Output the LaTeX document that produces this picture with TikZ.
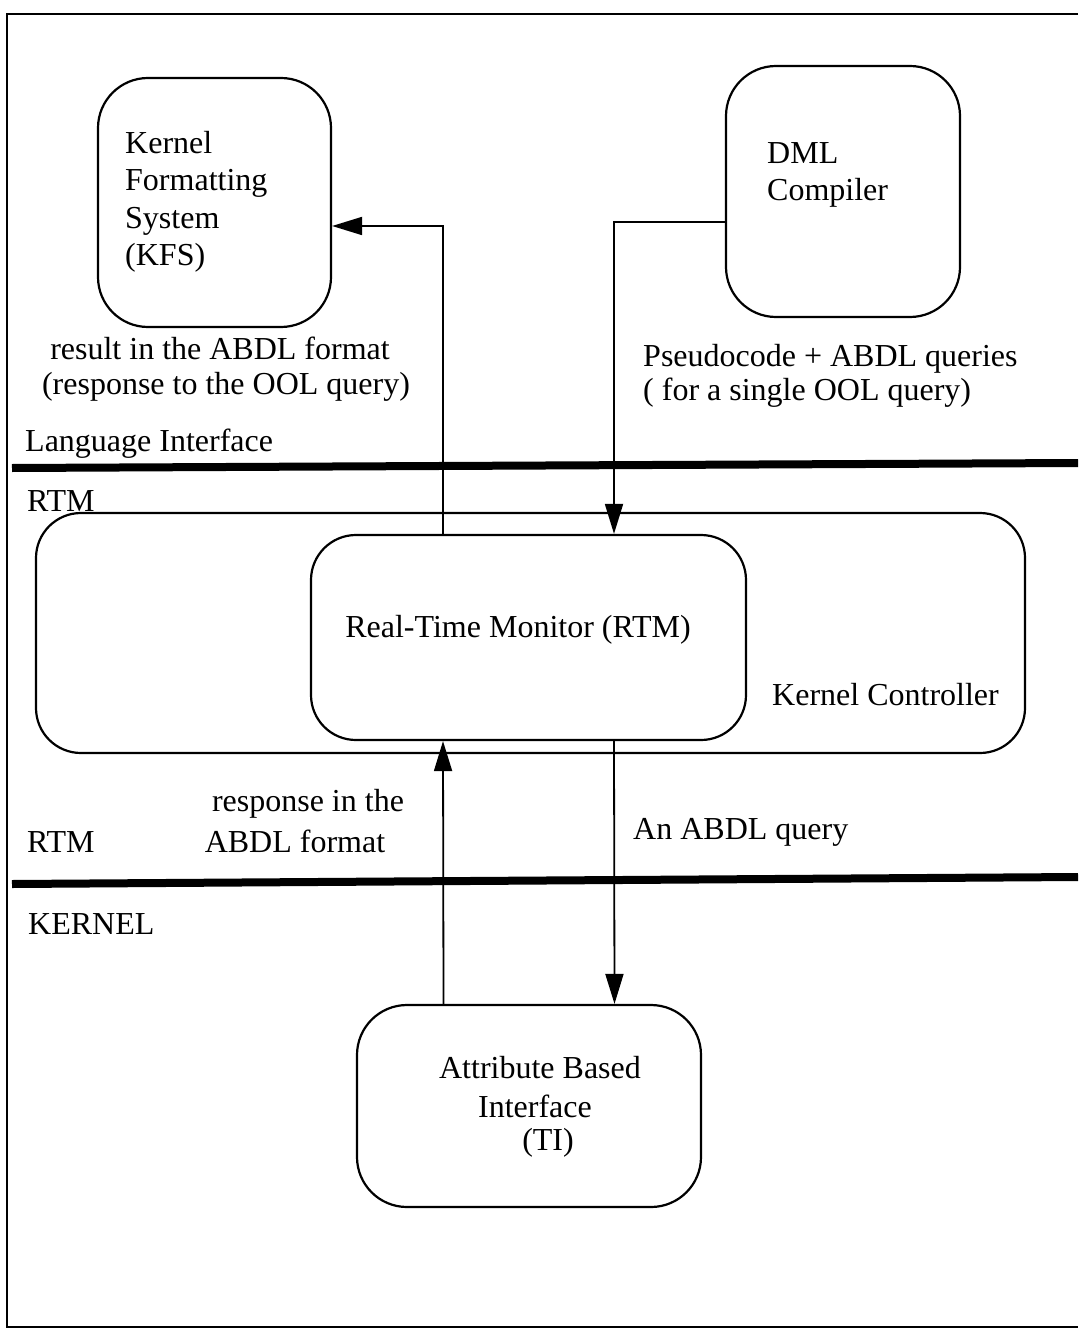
\documentclass[tikz,border=0pt]{standalone}
\usepackage{fontspec}
\setmainfont{Liberation Serif}
\usetikzlibrary{arrows.meta}
\begin{document}
\begin{tikzpicture}[x=1pt,y=-1pt,
  txt/.style={inner sep=0pt,font=\fontsize{32}{37.5}\selectfont},
  rbox/.style={draw,line width=2.2pt,inner sep=0pt},
  arr/.style={line width=1.8pt,-{Triangle[length=30pt,width=18pt]}},
  sep/.style={line width=8pt},
  frame/.style={line width=2pt}]
\useasboundingbox (0,0) rectangle (1078,1332);
% frame
\draw[frame] (1078,14) -- (7,14) -- (7,1327) -- (1078,1327);
% separators
\draw[sep] (12,468) -- (1078,463);
\draw[sep] (12,884) -- (1078,877);
% boxes
\node[rbox,rounded corners=50pt,minimum width=233pt,minimum height=249pt] (kfs) at (214.5,202.5) {};
\node[rbox,rounded corners=50pt,minimum width=234pt,minimum height=251pt] (dml) at (843,191.5) {};
\node[rbox,rounded corners=45pt,minimum width=989pt,minimum height=240pt] (kc) at (530.5,633) {};
\node[rbox,rounded corners=45pt,minimum width=435pt,minimum height=205pt,fill=white] (rtm) at (528.5,637.5) {};
\node[rbox,rounded corners=50pt,minimum width=344pt,minimum height=202pt] (ti) at (529,1106) {};
% box texts
\node[txt,anchor=west,align=left] (kfst) at (125,202) {Kernel\\Formatting\\System\\(KFS)};
\node[txt,anchor=west,align=left] (dmlt) at (767,175) {DML\\Compiler};
\node[txt] (rtmt) at (518,630) {Real-Time Monitor (RTM)};
\node[txt,anchor=west] (kct) at (772,695) {Kernel Controller};
\node[txt] (ti1) at (540,1068) {Attribute Based};
\node[txt] (ti2) at (535,1106) {Interface};
\node[txt] (ti3) at (548,1143) {(TI)};
% labels
\node[txt] (l1) at (220,348) {result in the ABDL format};
\node[txt] (l2) at (226,387) {(response to the OOL query)};
\node[txt,anchor=west] (l3) at (643,359) {Pseudocode + ABDL queries};
\node[txt,anchor=west] (l4) at (643,393) {( for a single OOL query)};
\node[txt,anchor=west] (li) at (25,444) {Language Interface};
\node[txt,anchor=west] (rtm1) at (27,501) {RTM};
\node[txt] (l5) at (308,804) {response in the};
\node[txt] (l6) at (295,841) {ABDL format};
\node[txt,anchor=west] (rtm2) at (27,842) {RTM};
\node[txt,anchor=west] (l7) at (633,832) {An ABDL query};
\node[txt,anchor=west] (kern) at (28,924) {KERNEL};
% connectors
\draw[arr] ([yshift=-30.5pt]dml.west) -| ([xshift=85.5pt]rtm.north);
\draw[arr] ([xshift=-85.5pt]rtm.north) |- ([yshift=-23.5pt]kfs.east);
\draw[arr] ([xshift=-85.5pt]ti.north) -- ([xshift=-85.5pt]rtm.south);
\draw[arr] ([xshift=85.5pt]rtm.south) -- ([xshift=85.5pt]ti.north);
\end{tikzpicture}
\end{document}
